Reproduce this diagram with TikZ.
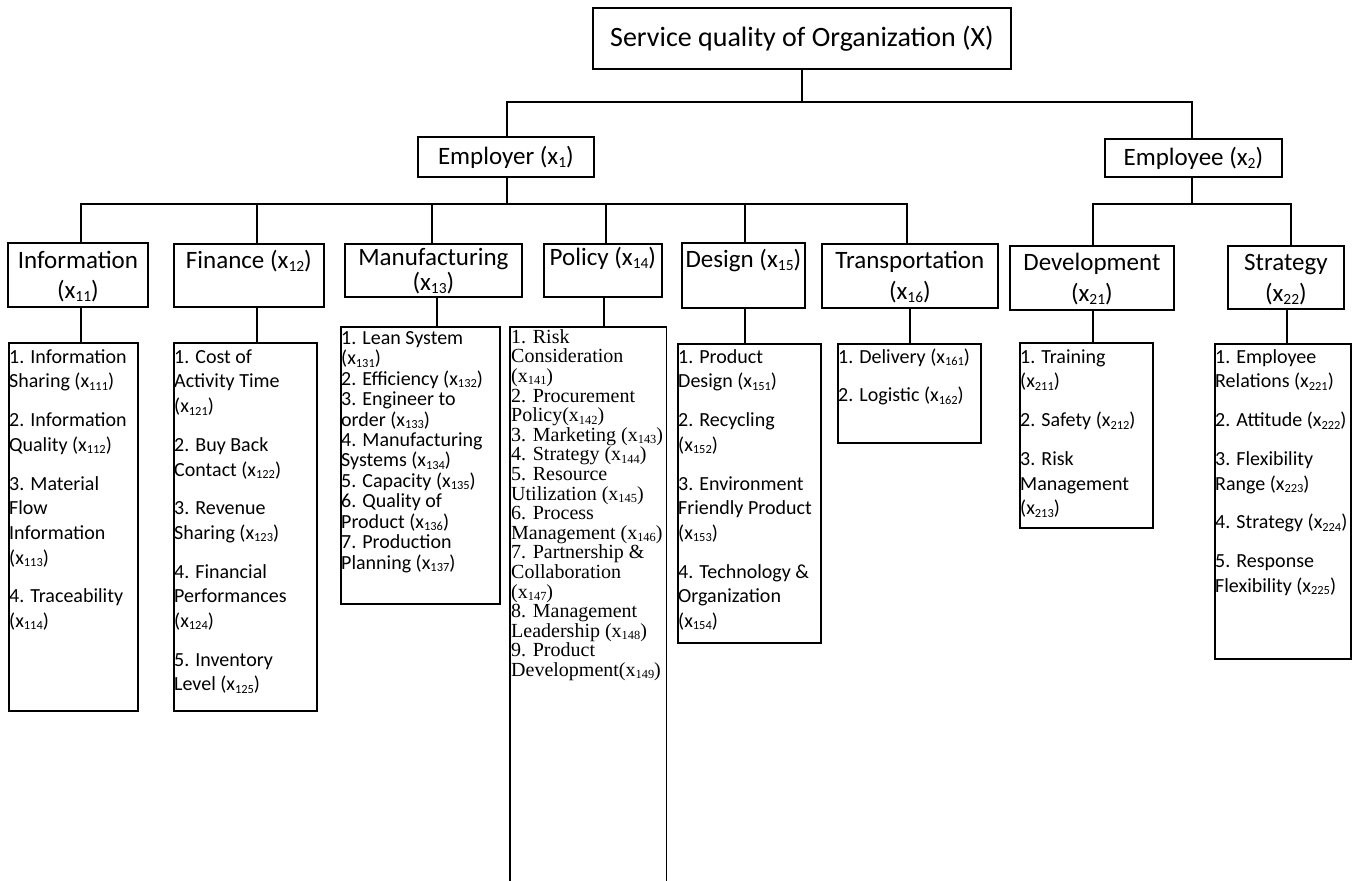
\documentclass[tikz,border=0pt]{standalone}
\usepackage{fontspec}
\setmainfont{Carlito}
\newfontfamily\tnr{Liberation Serif}
\usepackage{graphicx}
\newcommand\xs[1]{x\raisebox{-0.12em}{\scalebox{0.62}{#1}}}
\begin{document}
\lineskiplimit=-30pt
\begin{tikzpicture}[x=1pt,y=-1pt,
  bx/.style={draw, line width=1.8pt, inner sep=0pt, anchor=north west},
  ln/.style={line width=1.8pt},
  tl/.style={inner sep=0pt, anchor=north, align=center, font=\fontsize{25}{31}\selectfont},
  lt/.style={inner sep=0pt, anchor=north west, align=left, font=\fontsize{20}{24.7}\selectfont},
  lm/.style={inner sep=0pt, anchor=north west, align=left, font=\fontsize{20}{20.45}\selectfont},
  lp/.style={inner sep=0pt, anchor=north west, align=left, font=\tnr\fontsize{20}{19.6}\selectfont}]
\useasboundingbox (0,0) rectangle (1353,881);

% top levels
\node[bx, minimum width=418pt, minimum height=61pt, font=\fontsize{28}{34}\selectfont] (root) at (592,7) {Service quality of Organization (X)};
\node[bx, minimum width=176pt, minimum height=40pt, font=\fontsize{25}{31}\selectfont] (E1) at (417,136) {Employer (\xs{1})};
\node[bx, minimum width=177pt, minimum height=38pt, font=\fontsize{25}{31}\selectfont] (E2) at (1104,138) {Employee (\xs{2})};

% second level boxes
\node[bx, minimum width=140pt, minimum height=64pt] (A11) at (7,242) {};
\node[bx, minimum width=150pt, minimum height=63pt] (A12) at (173,243) {};
\node[bx, minimum width=177pt, minimum height=53pt] (A13) at (344,243) {};
\node[bx, minimum width=118pt, minimum height=53pt] (A14) at (543,243) {};
\node[bx, minimum width=123pt, minimum height=65pt] (A15) at (681,242) {};
\node[bx, minimum width=176pt, minimum height=64pt] (A16) at (821,243) {};
\node[bx, minimum width=164pt, minimum height=64pt] (A21) at (1009,245) {};
\node[bx, minimum width=116pt, minimum height=63pt] (A22) at (1227,245) {};

\node[tl] (A11t) at ([yshift=-4.3pt]A11.north) {\strut Information\\[-1pt](\xs{11})};
\node[tl] (A12t) at ([yshift=-3.3pt]A12.north) {\strut Finance (\xs{12})};
\node[tl] (A13t) at ([yshift=-0.3pt]A13.north) {\strut Manufacturing\\[-6pt](\xs{13})};
\node[tl] (A14t) at ([yshift=-0.3pt]A14.north) {\strut Policy (\xs{14})};
\node[tl] (A15t) at ([yshift=-3.3pt]A15.north) {\strut Design (\xs{15})};
\node[tl] (A16t) at ([yshift=-3.3pt]A16.north) {\strut Transportation\\(\xs{16})};
\node[tl] (A21t) at ([yshift=-3.3pt]A21.north) {\strut Development\\(\xs{21})};
\node[tl] (A22t) at ([yshift=-3.3pt]A22.north) {\strut Strategy\\(\xs{22})};

% list boxes
\node[bx, minimum width=129pt, minimum height=368pt] (L11) at (8,342) {};
\node[bx, minimum width=143pt, minimum height=368pt] (L12) at (173,342) {};
\node[bx, minimum width=159pt, minimum height=277pt] (L13) at (340,326) {};
\node[inner sep=0pt, anchor=north west, minimum width=156pt, minimum height=565pt] (L14) at (510,327) {};
\draw[ln] (L14.south west) -- (L14.north west) -- (L14.north east) -- (L14.south east);
\node[bx, minimum width=143pt, minimum height=299pt] (L15) at (677,343) {};
\node[bx, minimum width=143pt, minimum height=99pt] (L16) at (837,343) {};
\node[bx, minimum width=133pt, minimum height=185pt] (L21) at (1019,342) {};
\node[bx, minimum width=136pt, minimum height=315pt] (L22) at (1214,343) {};

\node[lt] (L11t) at (9,345.8) {\strut 1. Information\\Sharing (\xs{111})\\[14pt]2. Information\\Quality (\xs{112})\\[14pt]3. Material\\Flow\\Information\\(\xs{113})\\[14pt]4. Traceability\\(\xs{114})};
\node[lt] (L12t) at (174,345.8) {\strut 1. Cost of\\Activity Time\\(\xs{121})\\[14pt]2. Buy Back\\Contact (\xs{122})\\[14pt]3. Revenue\\Sharing (\xs{123})\\[14pt]4. Financial\\Performances\\(\xs{124})\\[14pt]5. Inventory\\Level (\xs{125})};
\node[lm] (L13t) at (341,329.7) {\strut 1. Lean System\\(\xs{131})\\2. Efficiency (\xs{132})\\3. Engineer to\\order (\xs{133})\\4. Manufacturing\\Systems (\xs{134})\\5. Capacity (\xs{135})\\6. Quality of\\Product (\xs{136})\\7. Production\\Planning (\xs{137})};
\node[lp] (L14t) at (511,329.3) {\strut 1. Risk\\Consideration\\(\xs{141})\\2. Procurement\\Policy(\xs{142})\\3. Marketing (\xs{143})\\4. Strategy (\xs{144})\\5. Resource\\Utilization (\xs{145})\\6. Process\\Management (\xs{146})\\7. Partnership \&\\Collaboration\\(\xs{147})\\8. Management\\Leadership (\xs{148})\\9. Product\\Development(\xs{149})};
\node[lt] (L15t) at (678,345.8) {\strut 1. Product\\Design (\xs{151})\\[14pt]2. Recycling\\(\xs{152})\\[14pt]3. Environment\\Friendly Product\\(\xs{153})\\[14pt]4. Technology \&\\Organization\\(\xs{154})};
\node[lt] (L16t) at (838,345.8) {\strut 1. Delivery (\xs{161})\\[14pt]2. Logistic (\xs{162})};
\node[lt] (L21t) at (1020,345.8) {\strut 1. Training\\(\xs{211})\\[14pt]2. Safety (\xs{212})\\[14pt]3. Risk\\Management\\(\xs{213})};
\node[lt] (L22t) at (1215,345.8) {\strut 1. Employee\\Relations (\xs{221})\\[14pt]2. Attitude (\xs{222})\\[14pt]3. Flexibility\\Range (\xs{223})\\[14pt]4. Strategy (\xs{224})\\[14pt]5. Response\\Flexibility (\xs{225})};

% connectors, top
\coordinate (b0l) at (507,102);
\coordinate (b0r) at (1192,102);
\draw[ln] (root.south) -- (root.south |- b0l);
\draw[ln] (b0l |- E1.north) -- (b0l) -- (b0r) -- (b0r |- E2.north);

% employer bus
\coordinate (e1d) at (507,204);
\coordinate (d11) at (81,204);
\coordinate (d12) at (257,204);
\coordinate (d13) at (432,204);
\coordinate (d14) at (606,204);
\coordinate (d15) at (745,204);
\coordinate (d16) at (907,204);
\draw[ln] (e1d |- E1.south) -- (e1d);
\draw[ln] (d11 |- A11.north) -- (d11) -- (d16) -- (d16 |- A16.north);
\draw[ln] (d12) -- (d12 |- A12.north);
\draw[ln] (d13) -- (d13 |- A13.north);
\draw[ln] (d14) -- (d14 |- A14.north);
\draw[ln] (d15) -- (d15 |- A15.north);

% employee bus
\coordinate (e2d) at (1192,204);
\coordinate (d21) at (1093,204);
\coordinate (d22) at (1291,204);
\draw[ln] (e2d |- E2.south) -- (e2d);
\draw[ln] (d21 |- A21.north) -- (d21) -- (d22) -- (d22 |- A22.north);

% to lists
\coordinate (k11) at (81,0);
\coordinate (k12) at (257,0);
\coordinate (k13) at (437,0);
\coordinate (k14) at (604,0);
\coordinate (k15) at (745,0);
\coordinate (k16) at (910,0);
\coordinate (k21) at (1093,0);
\coordinate (k22) at (1287,0);
\draw[ln] (A11.south -| k11) -- (L11.north -| k11);
\draw[ln] (A12.south -| k12) -- (L12.north -| k12);
\draw[ln] (A13.south -| k13) -- (L13.north -| k13);
\draw[ln] (A14.south -| k14) -- (L14.north -| k14);
\draw[ln] (A15.south -| k15) -- (L15.north -| k15);
\draw[ln] (A16.south -| k16) -- (L16.north -| k16);
\draw[ln] (A21.south -| k21) -- (L21.north -| k21);
\draw[ln] (A22.south -| k22) -- (L22.north -| k22);
\end{tikzpicture}
\end{document}
